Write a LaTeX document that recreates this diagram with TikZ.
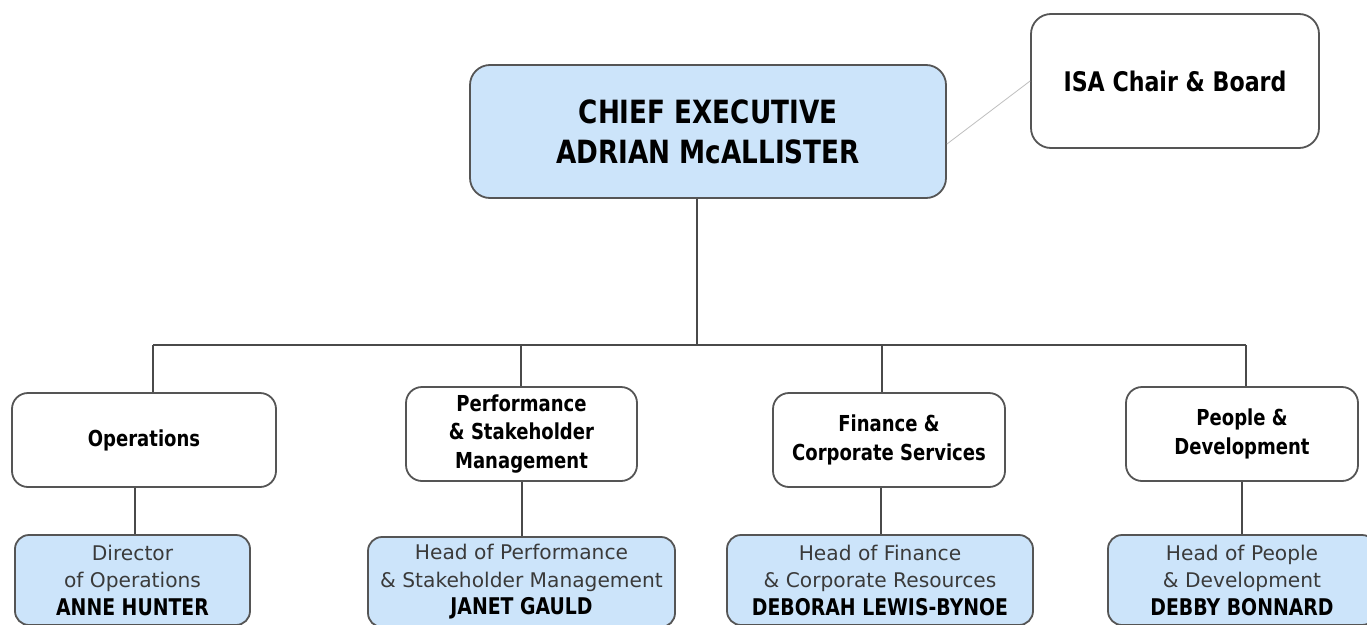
\documentclass[tikz,border=0pt]{standalone}
\usepackage{fontspec}
\newfontfamily\hb{DejaVu Sans}[FakeStretch=0.82]
\newfontfamily\hr{DejaVu Sans}
\definecolor{boxblue}{HTML}{CCE4FA}
\definecolor{edge}{HTML}{555555}
\definecolor{wire}{HTML}{4A4A4A}
\definecolor{greytext}{HTML}{3A3A3A}
\newcommand{\personname}[1]{{\hb\bfseries\color{black}\fontsize{23}{27.5}\selectfont #1}}
\begin{document}
\begin{tikzpicture}[x=1pt,y=-1pt,
  base/.style={draw=edge, line width=1.8pt, rounded corners=16pt, align=center, inner sep=0pt},
  topbox/.style={base, fill=boxblue, rounded corners=20pt, font=\hb\bfseries\fontsize{32}{40}\selectfont},
  isabox/.style={base, fill=white, rounded corners=20pt, font=\hb\bfseries\fontsize{27}{32}\selectfont},
  unitbox/.style={base, fill=white, minimum height=94pt, font=\hb\bfseries\fontsize{22}{28.5}\selectfont},
  headbox/.style={base, fill=boxblue, minimum height=90pt, rounded corners=14pt, font=\hr\fontsize{20.2}{27.5}\selectfont\color{greytext}},
  wireline/.style={draw=wire, line width=1.7pt},
  thinline/.style={draw=black!25, line width=0.8pt}]
\useasboundingbox (0,0) rectangle (1367,624);
\fill[white] (0,0) rectangle (1367,624);

\node[topbox, minimum width=476pt, minimum height=133pt] (chief) at (708,131.5)
  {CHIEF EXECUTIVE\\ADRIAN McALLISTER};
\node[isabox, minimum width=288pt, minimum height=134pt] (isa) at (1175,81)
  {ISA Chair \& Board};

\node[unitbox, minimum width=264pt] (ops) at (144,440) {Operations};
\node[unitbox, minimum width=231pt] (perf) at (521.5,434) {Performance\\\& Stakeholder\\Management};
\node[unitbox, minimum width=232pt] (fin) at (889,440) {Finance \&\\Corporate Services};
\node[unitbox, minimum width=232pt] (ppl) at (1242,434) {People \&\\Development};

\node[headbox, minimum width=235pt] (hops) at (132.5,580)
  {Director\\of Operations\\\personname{ANNE HUNTER}};
\node[headbox, minimum width=307pt] (hperf) at (521.5,582)
  {Head of Performance\\\& Stakeholder Management\\\personname{JANET GAULD}};
\node[headbox, minimum width=306pt] (hfin) at (880,580)
  {Head of Finance\\\& Corporate Resources\\\personname{DEBORAH LEWIS-BYNOE}};
\node[headbox, minimum width=268pt] (hppl) at (1242,580)
  {Head of People\\\& Development\\\personname{DEBBY BONNARD}};

\coordinate (trunk) at (697,345);
\coordinate (dA) at (153,345);
\coordinate (dB) at (521,345);
\coordinate (dC) at (882,345);
\coordinate (dD) at (1246,345);

\draw[thinline] (chief.-3.7) -- (isa.west);
\draw[wireline] (chief.south -| trunk) -- (trunk);
\draw[wireline] (dA) -- (dD);
\draw[wireline] (dA) -- (ops.north -| dA);
\draw[wireline] (dB) -- (perf.north -| dB);
\draw[wireline] (dC) -- (fin.north -| dC);
\draw[wireline] (dD) -- (ppl.north -| dD);

\coordinate (uA) at (135,0);
\coordinate (uB) at (522,0);
\coordinate (uC) at (881,0);
\coordinate (uD) at (1242,0);
\draw[wireline] (ops.south -| uA) -- (hops.north -| uA);
\draw[wireline] (perf.south -| uB) -- (hperf.north -| uB);
\draw[wireline] (fin.south -| uC) -- (hfin.north -| uC);
\draw[wireline] (ppl.south -| uD) -- (hppl.north -| uD);
\end{tikzpicture}
\end{document}
